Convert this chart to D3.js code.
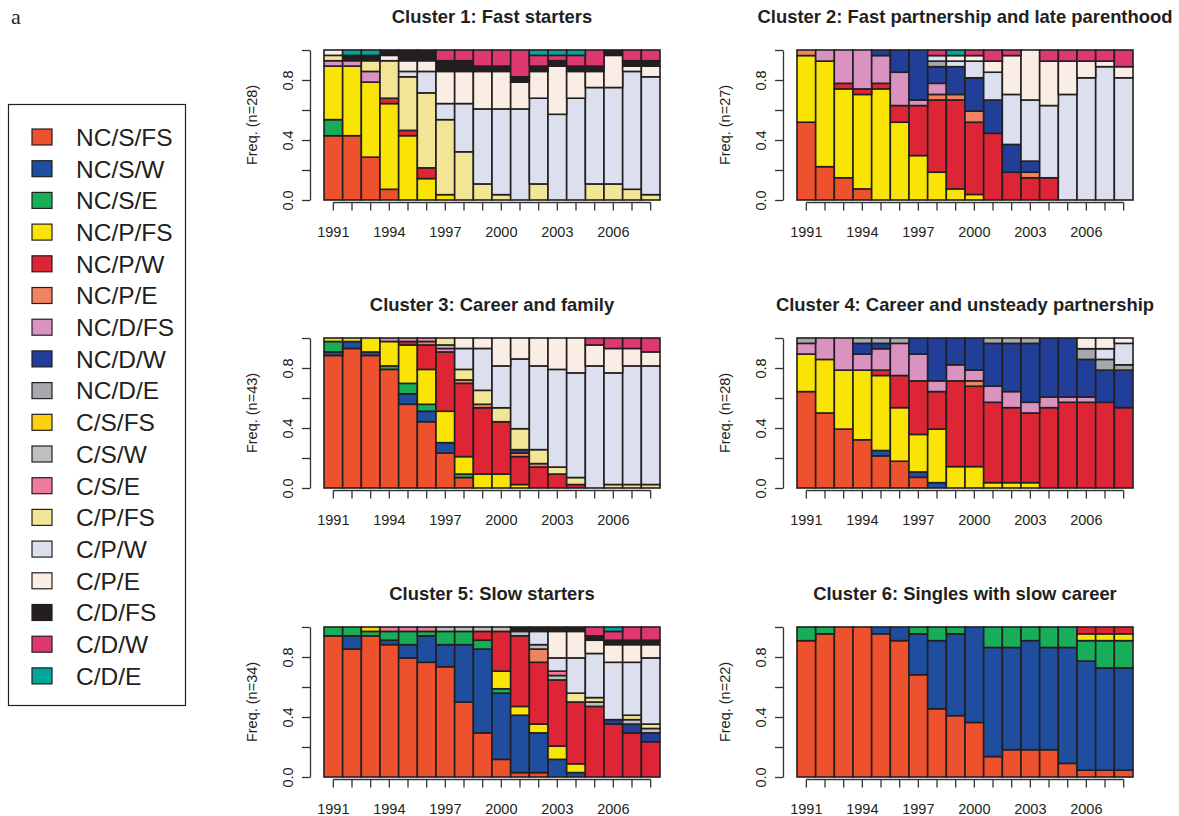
<!DOCTYPE html>
<html>
<head>
<meta charset="utf-8">
<script src="https://cdn.jsdelivr.net/npm/d3@7"></script>
<style>
body { margin: 0; background: #fff; }
text { font-family: "Liberation Sans", Arial, Helvetica, sans-serif; fill: #231f20; }
</style>
</head>
<body>
<svg id="chart" width="1179" height="816"></svg>
<script>

// sequence states, stacked bottom -> top in this order
var states = ["NC/S/FS","NC/S/W","NC/S/E","NC/P/FS","NC/P/W","NC/P/E","NC/D/FS","NC/D/W","NC/D/E",
              "C/S/FS","C/S/W","C/S/E","C/P/FS","C/P/W","C/P/E","C/D/FS","C/D/W","C/D/E"];
var stateColors = ["#ee512e","#1f4e9f","#18ad59","#fae406","#dd2535","#f08360","#da93c1","#213f98","#a6a8ab",
                   "#fdd10f","#bdbfc1","#ee7b9b","#f3e596","#dce0ee","#faede4","#231f20","#dd3871","#00a79c"];

var years = [1991,1992,1993,1994,1995,1996,1997,1998,1999,2000,2001,2002,2003,2004,2005,2006,2007,2008];
var yearLabels = [1991,1994,1997,2000,2003,2006];
var freqTicks = [0,0.2,0.4,0.6,0.8,1];
var freqLabels = [0,0.4,0.8];

var clusterTitles = ["Cluster 1: Fast starters","Cluster 2: Fast partnership and late parenthood",
                     "Cluster 3: Career and family","Cluster 4: Career and unsteady partnership",
                     "Cluster 5: Slow starters","Cluster 6: Singles with slow career"];
var clusterSizes = [28,27,43,28,34,22];

// counts of individuals per state, one object per year
var cluster1 = [
  {"NC/S/FS":12,"NC/S/E":3,"NC/P/FS":10,"NC/D/FS":1,"C/P/FS":1,"C/P/E":1},
  {"NC/S/FS":12,"NC/P/FS":13,"NC/D/FS":1,"C/D/FS":1,"C/D/E":1},
  {"NC/S/FS":8,"NC/P/FS":14,"NC/D/FS":2,"C/P/FS":2,"C/D/FS":1,"C/D/E":1},
  {"NC/S/FS":2,"NC/P/FS":16,"NC/P/W":1,"C/P/FS":7,"C/P/E":1,"C/D/FS":1},
  {"NC/P/FS":12,"NC/P/W":1,"C/P/FS":10,"C/P/W":1,"C/P/E":2,"C/D/FS":2},
  {"NC/P/FS":4,"NC/P/W":2,"C/P/FS":14,"C/P/W":4,"C/P/E":2,"C/D/FS":2},
  {"NC/P/FS":1,"C/P/FS":14,"C/P/W":3,"C/P/E":6,"C/D/FS":2,"C/D/W":2},
  {"C/P/FS":9,"C/P/W":9,"C/P/E":6,"C/D/FS":2,"C/D/W":2},
  {"C/P/FS":3,"C/P/W":14,"C/P/E":7,"C/D/FS":1,"C/D/W":3},
  {"C/P/FS":1,"C/P/W":16,"C/P/E":7,"C/D/FS":1,"C/D/W":3},
  {"C/P/W":17,"C/P/E":5,"C/D/FS":1,"C/D/W":5},
  {"C/P/FS":3,"C/P/W":16,"C/P/E":5,"C/D/FS":1,"C/D/W":2,"C/D/E":1},
  {"C/P/W":16,"C/P/E":9,"C/D/FS":1,"C/D/W":1,"C/D/E":1},
  {"C/P/W":19,"C/P/E":5,"C/D/FS":1,"C/D/W":2,"C/D/E":1},
  {"C/P/FS":3,"C/P/W":18,"C/P/E":3,"C/D/FS":1,"C/D/W":3},
  {"C/P/FS":3,"C/P/W":18,"C/P/E":6,"C/D/FS":1},
  {"C/P/FS":2,"C/P/W":22,"C/P/E":1,"C/D/FS":1,"C/D/W":2},
  {"C/P/FS":1,"C/P/W":22,"C/P/E":2,"C/D/FS":1,"C/D/W":2}
];

var cluster2 = [
  {"NC/S/FS":14,"NC/P/FS":12,"NC/P/E":1},
  {"NC/S/FS":6,"NC/P/FS":19,"NC/D/FS":2},
  {"NC/S/FS":4,"NC/P/FS":16,"NC/P/W":1,"NC/D/FS":6},
  {"NC/S/FS":2,"NC/P/FS":17,"NC/P/W":1,"NC/D/FS":7},
  {"NC/P/FS":20,"NC/P/W":1,"NC/D/FS":5,"NC/D/W":1},
  {"NC/P/FS":14,"NC/P/W":3,"NC/D/FS":6,"NC/D/W":4},
  {"NC/P/FS":8,"NC/P/W":9,"NC/D/FS":1,"NC/D/W":9},
  {"NC/P/FS":5,"NC/P/W":13,"NC/P/E":1,"NC/D/FS":2,"NC/D/W":3,"NC/D/E":1,"C/P/W":1,"C/D/W":1},
  {"NC/P/FS":2,"NC/P/W":16,"NC/P/E":1,"NC/D/W":5,"C/P/W":1,"C/P/E":1,"C/D/E":1},
  {"NC/P/FS":1,"NC/P/W":13,"NC/P/E":2,"NC/D/W":6,"C/P/W":3,"C/P/E":1,"C/D/W":1},
  {"NC/P/W":12,"NC/D/W":6,"C/P/W":5,"C/P/E":2,"C/D/W":2},
  {"NC/P/W":5,"NC/D/W":5,"C/P/W":9,"C/P/E":7,"C/D/W":1},
  {"NC/P/W":4,"NC/P/E":1,"NC/D/W":2,"C/P/W":11,"C/P/E":9},
  {"NC/P/W":4,"C/P/W":13,"C/P/E":8,"C/D/W":2},
  {"C/P/W":19,"C/P/E":6,"C/D/W":2},
  {"C/P/W":22,"C/P/E":3,"C/D/W":2},
  {"C/P/W":24,"C/P/E":1,"C/D/W":2},
  {"C/P/W":22,"C/P/E":2,"C/D/W":3}
];

var cluster3 = [
  {"NC/S/FS":38,"NC/S/W":1,"NC/S/E":3,"NC/P/FS":1},
  {"NC/S/FS":40,"NC/S/W":2,"NC/P/FS":1},
  {"NC/S/FS":38,"NC/S/W":1,"NC/P/FS":4},
  {"NC/S/FS":34,"NC/S/E":1,"NC/P/FS":7,"NC/D/FS":1},
  {"NC/S/FS":24,"NC/S/W":3,"NC/S/E":3,"NC/P/FS":11,"NC/P/W":1,"NC/D/FS":1},
  {"NC/S/FS":19,"NC/S/W":3,"NC/S/E":2,"NC/P/FS":10,"NC/P/W":7,"NC/P/E":1,"NC/D/FS":1},
  {"NC/S/FS":10,"NC/S/W":3,"NC/P/FS":9,"NC/P/W":17,"NC/D/FS":1,"C/S/W":1,"C/P/FS":2},
  {"NC/S/FS":3,"NC/S/E":1,"NC/P/FS":5,"NC/P/W":21,"NC/P/E":1,"C/P/FS":3,"C/P/W":6,"C/P/E":3},
  {"NC/P/FS":4,"NC/P/W":19,"NC/P/E":1,"C/P/FS":4,"C/P/W":12,"C/P/E":3},
  {"NC/P/FS":4,"NC/P/W":15,"C/P/FS":4,"C/P/W":12,"C/P/E":8},
  {"NC/P/FS":1,"NC/P/W":8,"NC/P/E":1,"NC/D/W":1,"C/P/FS":6,"C/P/W":20,"C/P/E":6},
  {"NC/P/W":6,"NC/P/E":1,"C/P/FS":4,"C/P/W":24,"C/P/E":8},
  {"NC/P/W":4,"C/P/FS":2,"C/P/W":28,"C/P/E":9},
  {"NC/P/W":1,"C/P/FS":2,"C/P/W":30,"C/P/E":10},
  {"C/P/W":35,"C/P/E":6,"C/D/W":2},
  {"C/P/FS":1,"C/P/W":32,"C/P/E":7,"C/D/W":3},
  {"C/P/FS":1,"C/P/W":34,"C/P/E":5,"C/D/W":3},
  {"C/P/FS":1,"C/P/W":34,"C/P/E":4,"C/D/W":4}
];

var cluster4 = [
  {"NC/S/FS":18,"NC/P/FS":7,"NC/D/FS":2,"NC/D/E":1},
  {"NC/S/FS":14,"NC/P/FS":10,"NC/D/FS":4},
  {"NC/S/FS":11,"NC/P/FS":11,"NC/D/FS":6},
  {"NC/S/FS":9,"NC/P/FS":13,"NC/D/FS":3,"NC/D/W":2,"NC/D/E":1},
  {"NC/S/FS":6,"NC/S/W":1,"NC/P/FS":14,"NC/P/W":1,"NC/D/FS":4,"NC/D/W":1,"NC/D/E":1},
  {"NC/S/FS":5,"NC/P/FS":10,"NC/P/W":6,"NC/D/FS":6,"NC/D/E":1},
  {"NC/S/FS":2,"NC/S/W":1,"NC/P/FS":7,"NC/P/W":10,"NC/D/FS":5,"NC/D/W":3},
  {"NC/S/W":1,"NC/P/FS":10,"NC/P/W":7,"NC/D/FS":2,"NC/D/W":8},
  {"NC/P/FS":4,"NC/P/W":16,"NC/D/FS":3,"NC/D/W":5},
  {"NC/P/FS":4,"NC/P/W":15,"NC/P/E":1,"NC/D/FS":2,"NC/D/W":6},
  {"NC/P/FS":1,"NC/P/W":15,"NC/D/FS":3,"NC/D/W":8,"NC/D/E":1},
  {"NC/P/FS":1,"NC/P/W":14,"NC/D/FS":3,"NC/D/W":9,"NC/D/E":1},
  {"NC/P/FS":1,"NC/P/W":13,"NC/D/FS":2,"NC/D/W":11,"NC/D/E":1},
  {"NC/P/W":15,"NC/D/FS":2,"NC/D/W":11},
  {"NC/P/W":16,"NC/D/FS":1,"NC/D/W":11},
  {"NC/P/W":16,"NC/D/FS":1,"NC/D/W":7,"NC/D/E":2,"C/P/E":2},
  {"NC/P/W":16,"NC/D/W":6,"NC/D/E":2,"C/P/W":2,"C/P/E":2},
  {"NC/P/W":15,"NC/D/W":7,"NC/D/E":1,"C/P/W":4,"C/P/E":1}
];

var cluster5 = [
  {"NC/S/FS":32,"NC/S/E":2},
  {"NC/S/FS":29,"NC/S/W":3,"NC/S/E":2},
  {"NC/S/FS":32,"NC/S/E":1,"C/S/FS":1},
  {"NC/S/FS":30,"NC/S/W":1,"NC/S/E":2,"C/S/E":1},
  {"NC/S/FS":27,"NC/S/W":3,"NC/S/E":3,"C/S/E":1},
  {"NC/S/FS":26,"NC/S/W":6,"NC/S/E":1,"C/S/E":1},
  {"NC/S/FS":25,"NC/S/W":5,"NC/S/E":3,"C/S/W":1},
  {"NC/S/FS":17,"NC/S/W":13,"NC/S/E":3,"C/S/W":1},
  {"NC/S/FS":10,"NC/S/W":19,"NC/S/E":2,"NC/P/W":2,"C/S/W":1},
  {"NC/S/FS":4,"NC/S/W":15,"NC/S/E":1,"NC/P/FS":4,"NC/P/W":9,"C/S/W":1},
  {"NC/S/FS":1,"NC/S/W":13,"NC/P/FS":2,"NC/P/W":16,"C/S/W":1,"C/D/FS":1},
  {"NC/S/FS":1,"NC/S/W":9,"NC/P/FS":2,"NC/P/W":14,"NC/P/E":3,"C/S/W":1,"C/P/W":3,"C/D/FS":1},
  {"NC/S/W":4,"NC/P/FS":3,"NC/P/W":15,"C/S/W":1,"C/S/E":1,"C/P/W":3,"C/P/E":6,"C/D/FS":1},
  {"NC/S/W":1,"NC/P/FS":2,"NC/P/W":14,"C/P/FS":2,"C/P/W":8,"C/P/E":6,"C/D/FS":1},
  {"NC/P/W":16,"C/S/W":1,"C/P/FS":1,"C/P/W":10,"C/P/E":3,"C/D/FS":1,"C/D/W":2},
  {"NC/P/W":12,"NC/D/W":1,"C/P/W":13,"C/P/E":4,"C/D/FS":1,"C/D/W":2,"C/D/E":1},
  {"NC/P/W":10,"NC/D/W":2,"C/S/W":1,"C/P/FS":1,"C/P/W":12,"C/P/E":4,"C/D/FS":1,"C/D/W":3},
  {"NC/P/W":8,"NC/D/W":2,"C/S/W":1,"C/P/FS":1,"C/P/W":15,"C/P/E":3,"C/D/FS":1,"C/D/W":3}
];

var cluster6 = [
  {"NC/S/FS":20,"NC/S/E":2},
  {"NC/S/FS":21,"NC/S/E":1},
  {"NC/S/FS":22},
  {"NC/S/FS":22},
  {"NC/S/FS":21,"NC/S/W":1},
  {"NC/S/FS":20,"NC/S/W":2},
  {"NC/S/FS":15,"NC/S/W":6,"NC/S/E":1},
  {"NC/S/FS":10,"NC/S/W":10,"NC/S/E":2},
  {"NC/S/FS":9,"NC/S/W":12,"NC/S/E":1},
  {"NC/S/FS":8,"NC/S/W":14},
  {"NC/S/FS":3,"NC/S/W":16,"NC/S/E":3},
  {"NC/S/FS":4,"NC/S/W":15,"NC/S/E":3},
  {"NC/S/FS":4,"NC/S/W":16,"NC/S/E":2},
  {"NC/S/FS":4,"NC/S/W":15,"NC/S/E":3},
  {"NC/S/FS":2,"NC/S/W":17,"NC/S/E":3},
  {"NC/S/FS":1,"NC/S/W":16,"NC/S/E":3,"NC/P/FS":1,"NC/P/W":1},
  {"NC/S/FS":1,"NC/S/W":15,"NC/S/E":4,"NC/P/FS":1,"NC/P/W":1},
  {"NC/S/FS":1,"NC/S/W":15,"NC/S/E":4,"NC/P/FS":1,"NC/P/W":1}
];

var clusters = [cluster1, cluster2, cluster3, cluster4, cluster5, cluster6];

var svg = d3.select("#chart");
var ink = "#231f20";

// panel placement (left edge of bars, baseline of bars)
var plotW = 336, plotH = 150;
var panelLeft = [324, 797, 324, 797, 324, 797];
var panelBase = [200, 200, 488, 488, 777, 777];

function drawPanel(k) {
    var data = clusters[k], n = clusterSizes[k];
    var left = panelLeft[k], base = panelBase[k];

    var x = d3.scaleBand().domain(years).range([left, left + plotW]).padding(0);
    var y = d3.scaleLinear().domain([0, 1]).range([base, base - plotH]);

    var series = d3.stack()
        .keys(states)
        .value(function(d, key) { return (d[key] || 0) / n; })(data);

    var g = svg.append("g");

    g.selectAll("g.layer")
      .data(series)
      .join("g")
        .attr("class", "layer")
        .attr("fill", function(d, i) { return stateColors[i]; })
      .selectAll("rect")
      .data(function(s) {
          return s.map(function(p, j) { return {y0: p[0], y1: p[1], year: years[j]}; })
                  .filter(function(p) { return p.y1 - p.y0 > 1e-9; });
      })
      .join("rect")
        .attr("x", function(d) { return x(d.year); })
        .attr("width", x.bandwidth())
        .attr("y", function(d) { return y(d.y1); })
        .attr("height", function(d) { return y(d.y0) - y(d.y1); })
        .attr("stroke", ink)
        .attr("stroke-width", 1.6);

    // y axis
    var yAxis = g.append("g")
        .attr("transform", "translate(" + (left - 14) + ",0)")
        .style("color", "#333")
        .call(d3.axisLeft(y).tickValues(freqTicks).tickSize(8).tickSizeOuter(0)
              .tickFormat(function(d) { return freqLabels.indexOf(d) >= 0 ? d.toFixed(1) : ""; }));
    yAxis.selectAll("path, line").attr("stroke-width", 1.3);
    yAxis.selectAll("text")
        .attr("transform", "rotate(-90)")
        .attr("x", 0).attr("y", -17).attr("dy", 0)
        .attr("text-anchor", "middle")
        .attr("font-size", 14.5)
        .attr("font-family", null);

    // x axis
    var xAxis = g.append("g")
        .attr("transform", "translate(0," + (base + 2.5) + ")")
        .style("color", "#333")
        .call(d3.axisBottom(x).tickSize(8).tickSizeOuter(0)
              .tickFormat(function(d) { return yearLabels.indexOf(d) >= 0 ? d : ""; }));
    xAxis.select(".domain").remove();
    xAxis.append("line")
        .attr("x1", x(years[0]) + x.bandwidth() / 2)
        .attr("x2", x(years[years.length - 1]) + x.bandwidth() / 2)
        .attr("stroke", "#333");
    xAxis.selectAll("line").attr("stroke-width", 1.3);
    xAxis.selectAll("text")
        .attr("y", 34.5).attr("dy", 0)
        .attr("font-size", 14.5)
        .attr("font-family", null);

    // title and y label
    g.append("text")
        .attr("x", left + plotW / 2)
        .attr("y", base - plotH - 27)
        .attr("text-anchor", "middle")
        .attr("font-weight", "bold")
        .attr("font-size", 18.4)
        .text(clusterTitles[k]);

    g.append("text")
        .attr("transform", "translate(" + (left - 67) + "," + (base - plotH / 2) + ") rotate(-90)")
        .attr("text-anchor", "middle")
        .attr("font-size", 14.5)
        .text("Freq. (n=" + n + ")");
}

for (var k = 0; k < clusters.length; k++) drawPanel(k);

// legend
var legendTop = 137, legendStep = 31.7;
var legend = svg.append("g");
legend.append("rect")
    .attr("x", 8.5).attr("y", 104.5)
    .attr("width", 177).attr("height", 601)
    .attr("fill", "none").attr("stroke", ink).attr("stroke-width", 1.2);

var items = legend.selectAll("g.item")
    .data(states)
    .join("g")
    .attr("class", "item")
    .attr("transform", function(d, i) { return "translate(0," + (legendTop + i * legendStep) + ")"; });

items.append("rect")
    .attr("x", 32).attr("y", -8)
    .attr("width", 20).attr("height", 16)
    .attr("fill", function(d, i) { return stateColors[i]; })
    .attr("stroke", ink).attr("stroke-width", 1.2);

items.append("text")
    .attr("x", 76).attr("y", 8.8)
    .attr("font-size", 24.5)
    .text(function(d) { return d; });

svg.append("text")
    .attr("x", 11).attr("y", 24)
    .style("font-family", "'Liberation Serif', 'Times New Roman', serif")
    .attr("font-size", 22)
    .text("a");

</script>
</body>
</html>
